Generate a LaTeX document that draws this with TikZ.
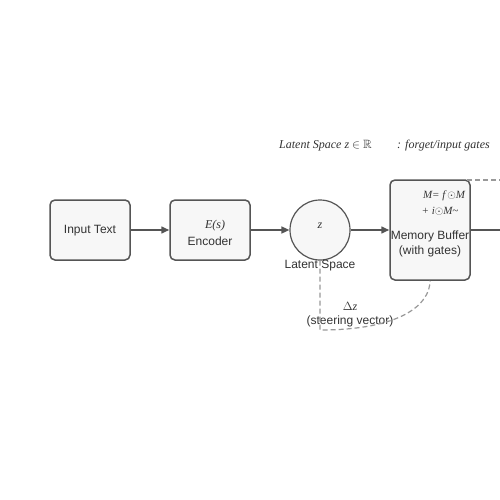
\documentclass[tikz,border=0pt]{standalone}
\usepackage{fontspec}
\usepackage{amssymb}
\setmainfont{Liberation Sans}
\newfontfamily\mathserif{Liberation Serif}
\usetikzlibrary{arrows.meta}
\definecolor{edgec}{HTML}{555555}
\definecolor{fillc}{HTML}{F7F7F7}
\definecolor{textc}{HTML}{333333}
\definecolor{dashc}{HTML}{999999}
\begin{document}
\begin{tikzpicture}[x=1pt,y=-1pt,
  box/.style={draw=edgec, fill=fillc, line width=1.5pt, rounded corners=5pt, minimum width=80pt, minimum height=60pt, inner sep=0pt},
  circ/.style={draw=edgec, fill=fillc, line width=1.2pt, circle, minimum size=60pt, inner sep=0pt},
  lbl/.style={text=textc, font=\fontsize{12}{14}\selectfont, inner sep=0pt, anchor=center},
  mlbl/.style={text=textc, font=\mathserif\itshape\fontsize{12}{14}\selectfont, inner sep=0pt, anchor=center},
  slbl/.style={text=textc, font=\mathserif\itshape\fontsize{11}{13}\selectfont, inner sep=0pt, anchor=center},
  flow/.style={draw=edgec, line width=1.5pt, -{Triangle[length=8pt,width=7pt]}},
  plain/.style={draw=edgec, line width=1.5pt},
  steer/.style={draw=dashc, line width=1.2pt, dash pattern=on 5pt off 3pt}
]
\useasboundingbox (0,0) rectangle (500,500);
\fill[white] (0,0) rectangle (500,500);

% nodes
\node[box] (inp) at (90,230) {};
\node[lbl] (inpt) at (90,231) {Input Text};

\node[box] (enc) at (210,230) {};
\node[mlbl] (encm) at (215,226) {E(s)};
\node[lbl] (enct) at (210,241) {Encoder};

\node[circ] (lat) at (320,230) {};
\node[mlbl] (latm) at (320,226) {z};
\node[lbl] (latt) at (320,266) {Latent Space};

\node[box, minimum height=100pt] (mem) at (430,230) {};
\node[slbl] (memm1) at (444,196) {M= f\,$\odot$M};
\node[slbl] (memm2) at (440,211) {+ i$\odot$M\~{}};
\node[lbl] (memt1) at (430,236) {Memory Buffer};
\node[lbl] (memt2) at (430,251) {(with gates)};

% top annotations
\node[mlbl, anchor=west] (noteA) at (279,146) {Latent Space z $\in$ $\mathbb{R}$};
\node[mlbl, anchor=west] (noteB) at (397,146) {: forget/input gates};

% steering label
\node[mlbl] (dz) at (350,306) {$\Delta$z};
\node[lbl] (dzt) at (350,321) {(steering vector)};

% free ends
\coordinate (outR) at (500,230);
\coordinate (topL) at (467,180);
\coordinate (topR) at (500,180);
\coordinate (bend) at (320,330);

% connectors
\draw[flow] (inp.east) -- (enc.west);
\draw[flow] (enc.east) -- (lat.west);
\draw[flow] (lat.east) -- (mem.west);
\draw[plain] (mem.east) -- (outR);
\draw[steer] (topL) -- (topR);
\draw[steer] (lat.south) -- (bend) .. controls (400,330) and (430,305) .. (mem.south);
\end{tikzpicture}
\end{document}
